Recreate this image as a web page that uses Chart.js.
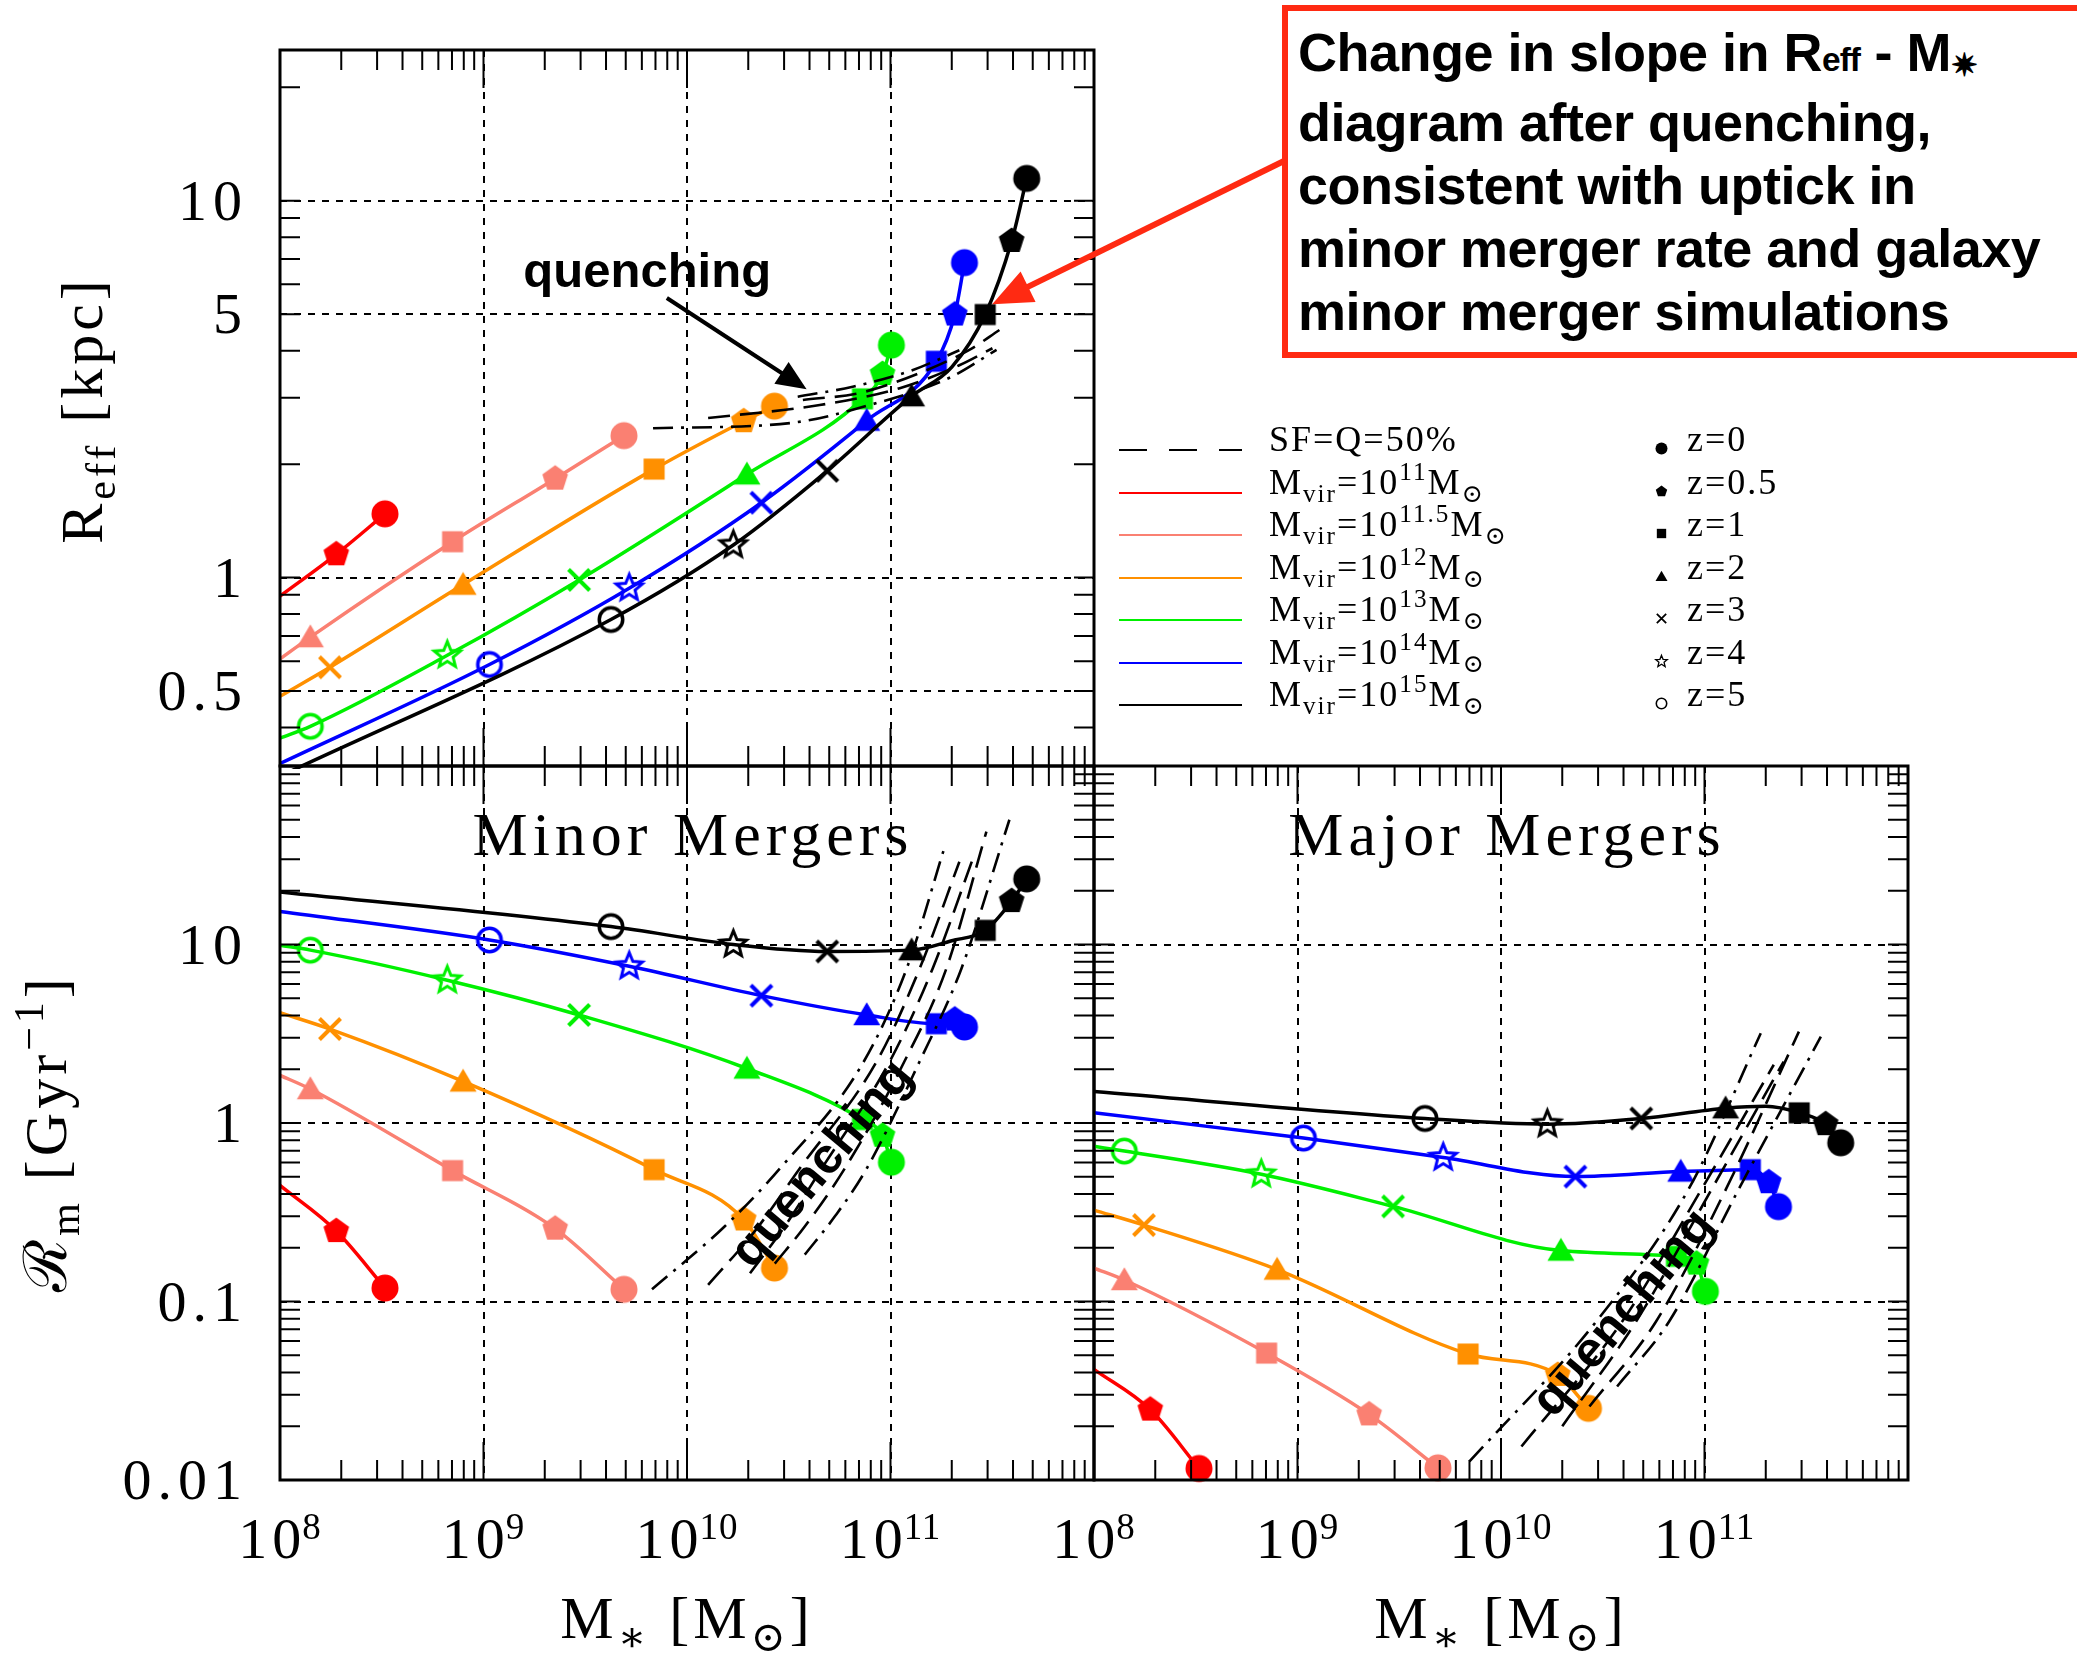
<!DOCTYPE html>
<html>
<head>
<meta charset="utf-8">
<title>Reff and merger rates vs stellar mass</title>
<script src="https://cdn.jsdelivr.net/npm/chart.js@4.4.1/dist/chart.umd.min.js"></script>
<style>
  html, body { margin: 0; padding: 0; background: #fff; }
  #page { position: relative; width: 2077px; height: 1655px; overflow: hidden; background: #fff; }
  #page canvas { position: absolute; left: 0; top: 0; display: block; }
  #overlay { position: absolute; left: 0; top: 0; width: 2077px; height: 1655px; pointer-events: none; }
  .serif { font-family: "Liberation Serif", "DejaVu Serif", serif; color: #000; white-space: nowrap; }
  sub { font-size: 0.7em; vertical-align: -0.3em; line-height: 0; }
  sup { font-size: 0.7em; vertical-align: 0.55em; line-height: 0; }
  .axt { position: absolute; font-size: 60px; line-height: 60px; letter-spacing: 4px; }
  .rot { transform: translate(-50%, -50%) rotate(-90deg); }
  .hor { transform: translateX(-50%); }
  .lg { position: absolute; font-size: 36px; line-height: 40px; letter-spacing: 2px; }
  .lgline { position: absolute; height: 2px; }
  #note {
    position: absolute; left: 1282px; top: 5px; width: 900px; height: 353px;
    box-sizing: border-box; border: 6px solid #ff2a12; background: #fff;
    padding: 10px 0 0 10px; color: #000; white-space: nowrap;
    font-family: "Liberation Sans", Arial, sans-serif; font-weight: bold;
    font-size: 54px; line-height: 63px; letter-spacing: -0.5px;
  }
  #note .s1 { font-size: 0.62em; letter-spacing: -1px; }
  #note .s2 { font-size: 0.6em; vertical-align: -0.15em; line-height: 0; }
</style>
</head>
<body>
<div id="page">
  <canvas id="cTop" width="2077" height="1655"></canvas>
  <canvas id="cMinor" width="2077" height="1655"></canvas>
  <canvas id="cMajor" width="2077" height="1655"></canvas>
  <div id="overlay">
    <div class="serif axt rot" style="left:82px; top:410px;">R<sub>eff</sub> [kpc]</div>
    <div class="serif axt rot" style="left:46px; top:1133px;">ℛ<sub>m</sub> [Gyr<sup>−1</sup>]</div>
    <div class="serif axt hor" style="left:687px; top:1588px;">M<sub>∗</sub> [M<sub>⊙</sub>]</div>
    <div class="serif axt hor" style="left:1501px; top:1588px;">M<sub>∗</sub> [M<sub>⊙</sub>]</div>
    <div id="note">Change in slope in R<span class="s1">eff</span> - M<span class="s2">✷</span><br>diagram after quenching,<br>consistent with uptick in<br>minor merger rate and galaxy<br>minor merger simulations</div>
  </div>
</div>

<script>
// axis ranges
const xMin = 1e8, xMax = 1e12
const reffMin = 0.3162, reffMax = 25.12
const rateMin = 0.01, rateMax = 100

// tick labels
const massTickVals = [1e8, 1e9, 1e10, 1e11]
const massTickExp = ["8", "9", "10", "11"]
const reffTickVals = [0.5, 1, 5, 10]
const reffTickText = ["0.5", "1", "5", "10"]
const rateTickVals = [0.01, 0.1, 1, 10]
const rateTickText = ["0.01", "0.1", "1", "10"]
const massGrid = [1e9, 1e10, 1e11]
const reffGrid = [0.5, 1, 5, 10]
const rateGrid = [0.1, 1, 10]
const panelTitles = ["Minor Mergers", "Major Mergers"]

// legend
const haloExps = ["11", "11.5", "12", "13", "14", "15"]
const haloColors = ["#ff0000", "#fa8072", "#ff9000", "#00f000", "#0000ff", "#000000"]
const zLabels = ["0", "0.5", "1", "2", "3", "4", "5"]

// stellar mass along each halo track (Msun), same points in all panels
const massRed    = [1e8, 1.89e8, 3.28e8]
const massSalmon = [1e8, 1.41e8, 7.05e8, 2.25e9, 4.90e9]
const massOrange = [1e8, 1.76e8, 7.94e8, 6.89e9, 1.90e10, 2.69e10]
const massGreen  = [1e8, 1.41e8, 6.64e8, 2.95e9, 1.97e10, 7.28e10, 9.14e10, 1.01e11]
const massBlue   = [1e8, 1.07e9, 5.20e9, 2.32e10, 7.64e10, 1.68e11, 2.07e11, 2.31e11]
const massBlack  = [1e8, 4.23e9, 1.69e10, 4.89e10, 1.27e11, 2.0e11, 2.92e11, 3.94e11, 4.67e11]

// redshift marker at each point ("" = plain curve point)
const markRed    = ["", "z0.5", "z0"]
const markSalmon = ["", "z2", "z1", "z0.5", "z0"]
const markOrange = ["", "z3", "z2", "z1", "z0.5", "z0"]
const markGreen  = ["", "z5", "z4", "z3", "z2", "z1", "z0.5", "z0"]
const markBlue   = ["", "z5", "z4", "z3", "z2", "z1", "z0.5", "z0"]
const markBlack  = ["", "z5", "z4", "z3", "z2", "", "z1", "z0.5", "z0"]

// effective radius (kpc)
const reffRed    = [0.893, 1.153, 1.476]
const reffSalmon = [0.608, 0.695, 1.245, 1.83, 2.38]
const reffOrange = [0.484, 0.578, 0.958, 1.94, 2.60, 2.85]
const reffGreen  = [0.375, 0.403, 0.622, 0.986, 1.88, 2.98, 3.47, 4.14]
const reffBlue   = [0.321, 0.588, 0.937, 1.58, 2.61, 3.75, 4.99, 6.85]
const reffBlack  = [0.297, 0.774, 1.22, 1.92, 3.03, 3.62, 4.99, 7.82, 11.46]

// minor merger rate (Gyr^-1)
const minorRed    = [0.447, 0.248, 0.119]
const minorSalmon = [1.85, 1.55, 0.541, 0.256, 0.117]
const minorOrange = [4.15, 3.36, 1.71, 0.548, 0.288, 0.154]
const minorGreen  = [9.9, 9.3, 6.31, 4.03, 2.02, 1.046, 0.848, 0.603]
const minorBlue   = [15.3, 10.6, 7.55, 5.17, 4.03, 3.6, 3.8, 3.45]
const minorBlack  = [19.7, 12.6, 10.0, 9.14, 9.30, 10.5, 12.0, 17.5, 23.3]

// major merger rate (Gyr^-1)
const majorRed    = [0.0417, 0.0248, 0.0116]
const majorSalmon = [0.154, 0.132, 0.0514, 0.0233, 0.0117]
const majorOrange = [0.325, 0.268, 0.151, 0.0508, 0.0388, 0.0252]
const majorGreen  = [0.74, 0.696, 0.516, 0.341, 0.193, 0.179, 0.163, 0.114]
const majorBlue   = [1.14, 0.823, 0.640, 0.501, 0.535, 0.548, 0.466, 0.340]
const majorBlack  = [1.50, 1.06, 0.985, 1.06, 1.21, 1.24, 1.14, 0.985, 0.775]

// quenching band, Reff panel
const qTopMassA = [6.81e9, 3.20e10, 7.89e10, 1.95e11, 3.32e11]
const qTopReffA = [2.49, 2.57, 2.87, 3.39, 4.02]
const qTopMassB = [1.27e10, 4.49e10, 1.11e11, 2.18e11, 3.17e11]
const qTopReffB = [2.65, 2.87, 3.18, 3.66, 4.06]
const qTopMassC = [3.71e10, 7.06e10, 1.39e11, 2.44e11, 3.43e11]
const qTopReffC = [2.96, 3.09, 3.49, 4.02, 4.54]
const qTopMassD = [3.5e10, 6.52e10, 1.28e11, 2.18e11]
const qTopReffD = [3.02, 3.21, 3.55, 4.01]

// quenching band, minor merger panel
const qMinMassA = [6.73e9, 1.53e10, 2.86e10, 7.29e10, 1.20e11, 1.84e11]
const qMinRateA = [0.117, 0.263, 0.556, 2.15, 7.32, 34.8]
const qMinMassB = [1.27e10, 2.15e10, 3.58e10, 8.55e10, 1.39e11, 2.18e11]
const qMinRateB = [0.124, 0.247, 0.556, 2.21, 7.32, 29.1]
const qMinMassC = [2.04e10, 3.02e10, 4.59e10, 9.91e10, 1.61e11, 2.59e11]
const qMinRateC = [0.144, 0.263, 0.556, 2.21, 7.32, 32.2]
const qMinMassD = [2.70e10, 3.79e10, 5.96e10, 1.17e11, 1.88e11, 2.96e11]
const qMinRateD = [0.163, 0.263, 0.556, 2.21, 7.32, 42.9]
const qMinMassE = [3.79e10, 5.32e10, 7.64e10, 1.39e11, 2.23e11, 3.84e11]
const qMinRateE = [0.183, 0.299, 0.556, 2.21, 7.32, 50.0]

// quenching band, major merger panel
const qMajMassA = [7.00e9, 2.94e10, 8.39e10, 1.89e11]
const qMajRateA = [0.0127, 0.0773, 0.43, 3.18]
const qMajMassB = [1.26e10, 3.94e10, 9.72e10, 2.19e11]
const qMajRateB = [0.0154, 0.0773, 0.43, 2.12]
const qMajMassC = [2.00e10, 4.61e10, 1.09e11, 2.45e11]
const qMajRateC = [0.0200, 0.0773, 0.43, 2.21]
const qMajMassD = [2.72e10, 5.78e10, 1.28e11, 2.91e11]
const qMajRateD = [0.0258, 0.0773, 0.43, 3.25]
const qMajMassE = [3.72e10, 6.70e10, 1.48e11, 3.73e11]
const qMajRateE = [0.0334, 0.0773, 0.43, 3.05]

// annotations (data coordinates)
const quenchLabelTop = [1.57e9, 5.91]
const quenchArrowTop = [7.96e9, 5.52, 3.87e10, 3.16]
const noteArrowTip = [3.16e11, 5.31]
const quenchLabelMinor = [4.64e10, 0.585]
const quenchLabelMajor = [4.03e10, 0.0857]

const DASHED = [22, 10]
const DASHDOT = [20, 8, 3, 8]

const zShape = { "z0": "c", "z0.5": "p", "z1": "sq", "z2": "tri", "z3": "x", "z4": "st", "z5": "oc" }

const tracks = [
  { mass: massRed, mark: markRed, reff: reffRed, minor: minorRed, major: majorRed },
  { mass: massSalmon, mark: markSalmon, reff: reffSalmon, minor: minorSalmon, major: majorSalmon },
  { mass: massOrange, mark: markOrange, reff: reffOrange, minor: minorOrange, major: majorOrange },
  { mass: massGreen, mark: markGreen, reff: reffGreen, minor: minorGreen, major: majorGreen },
  { mass: massBlue, mark: markBlue, reff: reffBlue, minor: minorBlue, major: majorBlue },
  { mass: massBlack, mark: markBlack, reff: reffBlack, minor: minorBlack, major: majorBlack }
]

const quenchTop = [
  { mass: qTopMassA, val: qTopReffA, dash: DASHDOT },
  { mass: qTopMassB, val: qTopReffB, dash: DASHED },
  { mass: qTopMassC, val: qTopReffC, dash: DASHED },
  { mass: qTopMassD, val: qTopReffD, dash: DASHDOT }
]
const quenchMinor = [
  { mass: qMinMassA, val: qMinRateA, dash: DASHDOT },
  { mass: qMinMassB, val: qMinRateB, dash: DASHED },
  { mass: qMinMassC, val: qMinRateC, dash: DASHED },
  { mass: qMinMassD, val: qMinRateD, dash: DASHED },
  { mass: qMinMassE, val: qMinRateE, dash: DASHDOT }
]
const quenchMajor = [
  { mass: qMajMassA, val: qMajRateA, dash: DASHDOT },
  { mass: qMajMassB, val: qMajRateB, dash: DASHED },
  { mass: qMajMassC, val: qMajRateC, dash: DASHED },
  { mass: qMajMassD, val: qMajRateD, dash: DASHED },
  { mass: qMajMassE, val: qMajRateE, dash: DASHDOT }
]

// log ticks 1..9 x 10^n inside [min, max]
function logTicks(min, max) {
  const out = []
  for (let e = Math.floor(Math.log10(min)); e <= Math.ceil(Math.log10(max)); e++) {
    for (let k = 1; k <= 9; k++) {
      const v = k * Math.pow(10, e)
      if (v >= min * 0.999 && v <= max * 1.001) out.push(v)
    }
  }
  return out
}

function isDecade(v) {
  const l = Math.log10(v)
  return Math.abs(l - Math.round(l)) < 1e-9
}

function same(a, b) { return Math.abs(a / b - 1) < 1e-6 }

const markerCache = {}
function marker(kind, color, r) {
  const key = kind + color + r
  if (markerCache[key]) return markerCache[key]
  const lw = kind === "x" ? r * 0.3 : (kind === "st" ? r * 0.22 : r * 0.26)
  const size = Math.ceil(2.2 * r + lw + 4)
  const c = document.createElement("canvas")
  c.width = size
  c.height = size
  const g = c.getContext("2d")
  g.translate(size / 2, size / 2)
  g.fillStyle = color
  g.strokeStyle = color
  g.lineWidth = lw
  g.beginPath()
  if (kind === "c") {
    g.arc(0, 0, r, 0, Math.PI * 2); g.fill()
  } else if (kind === "oc") {
    g.arc(0, 0, r - lw / 2, 0, Math.PI * 2); g.stroke()
  } else if (kind === "sq") {
    const h = r * 0.78; g.rect(-h, -h, 2 * h, 2 * h); g.fill()
  } else if (kind === "tri") {
    g.moveTo(0, -r * 0.95); g.lineTo(r, r * 0.75); g.lineTo(-r, r * 0.75); g.closePath(); g.fill()
  } else if (kind === "p") {
    for (let k = 0; k < 5; k++) {
      const a = -Math.PI / 2 + k * 2 * Math.PI / 5
      k ? g.lineTo(r * Math.cos(a), r * Math.sin(a)) : g.moveTo(r * Math.cos(a), r * Math.sin(a))
    }
    g.closePath(); g.fill()
  } else if (kind === "st") {
    for (let k = 0; k < 10; k++) {
      const a = -Math.PI / 2 + k * Math.PI / 5
      const rr = k % 2 ? r * 0.45 : r * 1.02
      k ? g.lineTo(rr * Math.cos(a), rr * Math.sin(a)) : g.moveTo(rr * Math.cos(a), rr * Math.sin(a))
    }
    g.closePath(); g.stroke()
  } else if (kind === "x") {
    const h = r * 0.78
    g.moveTo(-h, -h); g.lineTo(h, h); g.moveTo(h, -h); g.lineTo(-h, h); g.stroke()
  }
  markerCache[key] = c
  return c
}

function trackDatasets(key) {
  return tracks.map((t, i) => ({
    data: t.mass.map((m, j) => ({ x: m, y: t[key][j] })),
    borderColor: haloColors[i],
    borderWidth: 3.5,
    pointStyle: t.mark.map(z => z ? marker(zShape[z], haloColors[i], 13.5) : false),
    pointRadius: t.mark.map(z => z ? 6 : 0),
    cubicInterpolationMode: "monotone",
    fill: false,
    clip: 3,
    order: 20 - i
  }))
}

function quenchDatasets(lines) {
  return lines.map(q => ({
    data: q.mass.map((m, j) => ({ x: m, y: q.val[j] })),
    borderColor: "#000",
    borderWidth: 2.6,
    borderDash: q.dash,
    pointRadius: 0,
    cubicInterpolationMode: "monotone",
    fill: false,
    clip: 0,
    order: 1
  }))
}

function arrow(ctx, x1, y1, x2, y2, color, lw, hl, hw) {
  const dx = x2 - x1, dy = y2 - y1, L = Math.hypot(dx, dy)
  const ux = dx / L, uy = dy / L
  const bx = x2 - ux * hl, by = y2 - uy * hl
  ctx.save()
  ctx.setLineDash([])
  ctx.strokeStyle = color
  ctx.fillStyle = color
  ctx.lineWidth = lw
  ctx.beginPath()
  ctx.moveTo(x1, y1)
  ctx.lineTo(bx + ux * 2, by + uy * 2)
  ctx.stroke()
  ctx.beginPath()
  ctx.moveTo(x2, y2)
  ctx.lineTo(bx - uy * hw, by + ux * hw)
  ctx.lineTo(bx + uy * hw, by - ux * hw)
  ctx.closePath()
  ctx.fill()
  ctx.restore()
}

const SERIF = '"Liberation Serif", "DejaVu Serif", serif'
const SANS = '"Liberation Sans", Arial, sans-serif'

const panelConf = {
  top:   { yVals: reffTickVals, yText: reffTickText },
  minor: { yVals: rateTickVals, yText: rateTickText, xExp: massTickExp, title: panelTitles[0], qLabel: quenchLabelMinor },
  major: { xExp: massTickExp, title: panelTitles[1], qLabel: quenchLabelMajor }
}

// frame, inward ticks, tick labels and annotations
const panelAxes = {
  id: "panelAxes",
  afterDatasetsDraw(chart, args, opts) {
    const conf = panelConf[opts.kind]
    const { ctx, chartArea: a } = chart
    const sx = chart.scales.x, sy = chart.scales.y
    ctx.save()
    ctx.setLineDash([])
    ctx.strokeStyle = "#000"
    ctx.fillStyle = "#000"
    ctx.lineWidth = 2
    ctx.beginPath()
    sx.ticks.forEach(t => {
      const px = sx.getPixelForValue(t.value)
      const len = isDecade(t.value) ? 38 : 20
      ctx.moveTo(px, a.bottom); ctx.lineTo(px, a.bottom - len)
      ctx.moveTo(px, a.top); ctx.lineTo(px, a.top + len)
    })
    sy.ticks.forEach(t => {
      const py = sy.getPixelForValue(t.value)
      ctx.moveTo(a.left, py); ctx.lineTo(a.left + 20, py)
      ctx.moveTo(a.right, py); ctx.lineTo(a.right - 20, py)
    })
    ctx.stroke()
    ctx.lineWidth = 3
    ctx.strokeRect(a.left, a.top, a.right - a.left, a.bottom - a.top)

    // y tick labels
    if (conf.yVals) {
      ctx.font = "58px " + SERIF
      ctx.letterSpacing = "6px"
      ctx.textAlign = "right"
      ctx.textBaseline = "alphabetic"
      conf.yVals.forEach((v, i) => {
        ctx.fillText(conf.yText[i], a.left - 38 + 6, sy.getPixelForValue(v) + 19)
      })
    }
    // x tick labels 10^n
    if (conf.xExp) {
      ctx.textAlign = "left"
      massTickVals.forEach((v, i) => {
        const px = sx.getPixelForValue(v)
        ctx.font = "58px " + SERIF
        ctx.letterSpacing = "5px"
        const wb = ctx.measureText("10").width
        ctx.font = "37px " + SERIF
        ctx.letterSpacing = "1px"
        const we = ctx.measureText(conf.xExp[i]).width
        const x0 = px - (wb + we - 4) / 2
        ctx.font = "58px " + SERIF
        ctx.letterSpacing = "5px"
        ctx.fillText("10", x0, a.bottom + 78)
        ctx.font = "37px " + SERIF
        ctx.letterSpacing = "1px"
        ctx.fillText(conf.xExp[i], x0 + wb - 4, a.bottom + 59)
      })
    }
    ctx.letterSpacing = "0px"

    if (conf.title) {
      ctx.font = "62px " + SERIF
      ctx.letterSpacing = "5px"
      ctx.textAlign = "center"
      ctx.fillText(conf.title, (a.left + a.right) / 2 + 6, a.top + 89)
      ctx.letterSpacing = "0px"
    }
    if (conf.qLabel) {
      ctx.save()
      ctx.translate(sx.getPixelForValue(conf.qLabel[0]), sy.getPixelForValue(conf.qLabel[1]))
      ctx.rotate(-50 * Math.PI / 180)
      ctx.font = "bold 50px " + SANS
      ctx.textAlign = "center"
      ctx.textBaseline = "middle"
      ctx.fillText("quenching", 0, 0)
      ctx.restore()
    }
    if (opts.kind === "top") {
      ctx.font = "bold 49px " + SANS
      ctx.textAlign = "left"
      ctx.textBaseline = "alphabetic"
      ctx.fillText("quenching", sx.getPixelForValue(quenchLabelTop[0]), sy.getPixelForValue(quenchLabelTop[1]))
      arrow(ctx,
        sx.getPixelForValue(quenchArrowTop[0]), sy.getPixelForValue(quenchArrowTop[1]),
        sx.getPixelForValue(quenchArrowTop[2]), sy.getPixelForValue(quenchArrowTop[3]),
        "#000", 4, 30, 13)
      // red arrow from the note box
      arrow(ctx, 1284, 161, sx.getPixelForValue(noteArrowTip[0]), sy.getPixelForValue(noteArrowTip[1]),
        "#ff2a12", 6, 40, 17)
    }
    ctx.restore()
  }
}

function gridColor(vals) {
  return c => (c.tick && vals.some(g => same(c.tick.value, g))) ? "#000" : "rgba(0,0,0,0)"
}

function makePanel(id, kind, yMin, yMax, yGrid, pad, datasets) {
  return new Chart(document.getElementById(id), {
    type: "line",
    data: { datasets },
    options: {
      responsive: false,
      animation: false,
      events: [],
      layout: { padding: pad },
      plugins: {
        legend: { display: false },
        tooltip: { enabled: false },
        panelAxes: { kind }
      },
      scales: {
        x: {
          type: "logarithmic", position: "bottom", min: xMin, max: xMax, bounds: "data",
          afterBuildTicks: s => { s.ticks = logTicks(xMin, xMax).map(v => ({ value: v })) },
          ticks: { display: false },
          border: { display: false, dash: [7, 7] },
          grid: { drawTicks: false, lineWidth: 2, color: gridColor(massGrid) }
        },
        y: {
          type: "logarithmic", position: "left", min: yMin, max: yMax, bounds: "data",
          afterBuildTicks: s => { s.ticks = logTicks(yMin, yMax).map(v => ({ value: v })) },
          ticks: { display: false },
          border: { display: false, dash: [7, 7] },
          grid: { drawTicks: false, lineWidth: 2, color: gridColor(yGrid) }
        }
      }
    },
    plugins: [panelAxes]
  })
}

makePanel("cTop", "top", reffMin, reffMax, reffGrid,
  { left: 280, top: 50, right: 983, bottom: 889 },
  quenchDatasets(quenchTop).concat(trackDatasets("reff")))
makePanel("cMinor", "minor", rateMin, rateMax, rateGrid,
  { left: 280, top: 766, right: 983, bottom: 175 },
  quenchDatasets(quenchMinor).concat(trackDatasets("minor")))
makePanel("cMajor", "major", rateMin, rateMax, rateGrid,
  { left: 1094, top: 766, right: 169, bottom: 175 },
  quenchDatasets(quenchMajor).concat(trackDatasets("major")))

// legend
const overlay = document.getElementById("overlay")
const rowY = [450, 493, 535, 578, 620, 663, 705]

function addDiv(cls, style, html) {
  const d = document.createElement("div")
  d.className = cls
  d.setAttribute("style", style)
  if (html) d.innerHTML = html
  overlay.appendChild(d)
  return d
}

addDiv("lgline", "left:1119px; top:" + (rowY[0] - 1) + "px; width:123px; background:repeating-linear-gradient(to right,#000 0 28px,transparent 28px 50px);")
addDiv("serif lg", "left:1269px; top:" + (rowY[0] - 31) + "px;", "SF=Q=50%")
haloExps.forEach((e, i) => {
  const y = rowY[i + 1]
  addDiv("lgline", "left:1119px; top:" + (y - 1) + "px; width:123px; background:" + haloColors[i] + ";")
  addDiv("serif lg", "left:1269px; top:" + (y - 31) + "px;", "M<sub>vir</sub>=10<sup>" + e + "</sup>M<sub>⊙</sub>")
})
zLabels.forEach((z, i) => {
  const y = rowY[i]
  const c = marker(zShape["z" + z], "#000", 6)
  const m = c.cloneNode()
  m.getContext("2d").drawImage(c, 0, 0)
  m.style.position = "absolute"
  m.style.left = (1661 - c.width / 2) + "px"
  m.style.top = (y - 2 - c.height / 2) + "px"
  overlay.appendChild(m)
  addDiv("serif lg", "left:1687px; top:" + (y - 31) + "px;", "z=" + z)
})
</script>
</body>
</html>
